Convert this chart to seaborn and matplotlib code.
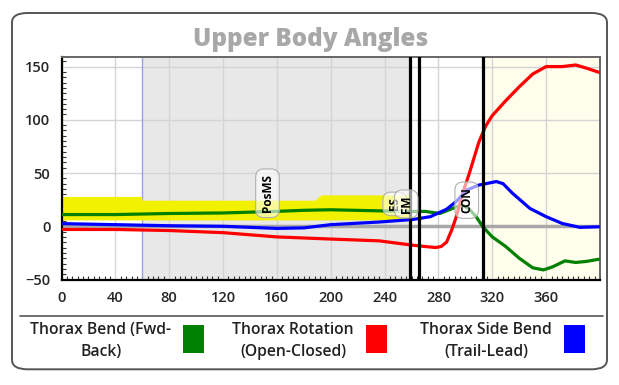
import numpy as np
import pandas as pd
import matplotlib.pyplot as plt
import seaborn as sns
from matplotlib.patches import FancyBboxPatch, Rectangle
from matplotlib.lines import Line2D
from matplotlib.ticker import MultipleLocator

# Angle traces (frame, degrees)
bend_frames = [0, 40, 80, 120, 160, 180, 200, 236, 261, 270, 281, 293, 298, 303,
               308, 313, 320, 330, 340, 350, 358, 365, 374, 382, 390, 399]
bend = [11, 11, 12, 12.5, 14, 15, 15.5, 14.5, 13.8, 14, 12, 18, 20, 16,
        9, -0.5, -10, -19, -30, -39, -41, -38, -32.5, -34, -33, -31]

rotation_frames = [0, 40, 80, 120, 160, 200, 236, 261, 270, 278, 282, 286, 290, 293,
                   298, 303, 310, 315, 320, 330, 340, 350, 360, 372, 382, 390, 399]
rotation = [-3, -3, -4, -6, -10, -12, -13.7, -17.8, -19, -20, -19, -15, -3, 8,
            31, 50, 79, 94, 104, 118, 131, 143, 150, 150, 151.5, 148.5, 144.7]

side_frames = [0, 40, 80, 120, 160, 180, 200, 236, 261, 274, 286, 293, 301, 310,
               323, 328, 335, 348, 360, 372, 385, 399]
side_bend = [2.5, 1.5, 0.5, 0, -2, -1.5, 1.5, 4, 6.4, 9, 16, 23, 34, 38.7,
             42, 40, 31, 16.7, 9, 2.6, -1, -0.5]

series_names = ['Thorax Bend (Fwd-\nBack)', 'Thorax Rotation\n(Open-Closed)',
                'Thorax Side Bend\n(Trail-Lead)']
series_colors = ['#008000', '#ff0000', '#0000ff']

# Yellow normal range band for thorax bend
band_frames = [0, 59.5, 60, 188, 193, 259]
band_low = [6, 6, 6, 6, 6, 6]
band_high = [28, 28, 24.5, 24.5, 29.5, 29.5]

# Swing events
event_labels = ['PosMS', 'ES', 'FM', 'CON']
event_frames = [153, 247.5, 256, 301]
event_heights = [31, 21, 21, 24.5]
event_lines = [258.5, 265.5, 313]

long_df = pd.concat([
    pd.DataFrame({'Frame': bend_frames, 'Angle': bend, 'Series': series_names[0]}),
    pd.DataFrame({'Frame': rotation_frames, 'Angle': rotation, 'Series': series_names[1]}),
    pd.DataFrame({'Frame': side_frames, 'Angle': side_bend, 'Series': series_names[2]}),
], ignore_index=True)

sns.set_style("white")
plt.rcParams['font.family'] = ['Open Sans', 'DejaVu Sans']

W, H = 619, 385
fig = plt.figure(figsize=(W / 100, H / 100), dpi=100)
ax = fig.add_axes([61.5 / W, 1 - 279.5 / H, 538.5 / W, 222.5 / H])
ax.set_zorder(2)


def px(x, y):
    return x / W, 1 - y / H


# rounded outer frame
fig.patches.append(FancyBboxPatch(px(12, 369.3), 595 / W, 356.3 / H,
                                  boxstyle='round,pad=0,rounding_size=0.025',
                                  transform=fig.transFigure, fc='white',
                                  ec='#555555', lw=1.4, zorder=-10))

# background regions
ax.axvspan(60, event_lines[0], color='#e8e8e8', zorder=0, lw=0)
ax.axvspan(event_lines[2], 400, color='#fffdeb', zorder=0, lw=0)
ax.grid(True, color='#d4d4d4', lw=1, zorder=1)
ax.set_axisbelow(True)
ax.axvline(60, color='#9aa0e0', lw=1, zorder=2)
ax.axvline(0.6, color='#f0f000', lw=1.6, zorder=2)
ax.axhline(0, color='#a8a8a8', lw=2.5, zorder=2)

ax.fill_between(band_frames, band_low, band_high, color='#f2f200', lw=0, zorder=2)

sns.lineplot(data=long_df, x='Frame', y='Angle', hue='Series',
             palette=dict(zip(series_names, series_colors)), lw=2.3,
             legend=False, ax=ax, zorder=4)

for xv in event_lines:
    ax.axvline(xv, color='black', lw=2.3, zorder=5)

for i, (lab, xv, yv) in enumerate(zip(event_labels, event_frames, event_heights)):
    ax.text(xv, yv, lab, rotation=90, ha='center', va='center', fontsize=8.5,
            fontweight='bold', color='black', zorder=6 + i,
            bbox=dict(boxstyle='round,pad=0.45,rounding_size=0.7',
                      fc=(1, 1, 1, 0.6), ec='#b0b0b0', lw=0.8))

ax.set_xlim(0, 400)
ax.set_ylim(-50, 159)
ax.xaxis.set_major_locator(MultipleLocator(40))
ax.xaxis.set_minor_locator(MultipleLocator(4))
ax.yaxis.set_major_locator(MultipleLocator(50))
ax.yaxis.set_minor_locator(MultipleLocator(5))
ax.tick_params(which='major', direction='out', length=6, width=1.2,
               labelsize=10.5, color='#222222', pad=2)
ax.tick_params(which='minor', direction='in', length=3, width=0.8,
               color='#333333', bottom=True, left=True)
ax.set_xticks(range(0, 400, 40))
for lab in ax.get_xticklabels() + ax.get_yticklabels():
    lab.set_fontweight('semibold')
ax.set_xlabel('')
ax.set_ylabel('')
for side in ['left', 'bottom']:
    ax.spines[side].set_color('black')
    ax.spines[side].set_linewidth(1.6)
for side in ['top', 'right']:
    ax.spines[side].set_color('#666666')
    ax.spines[side].set_linewidth(1.4)

fig.text(*px(310.5, 40), 'Upper Body Angles', ha='center', va='center',
         fontsize=17.5, fontweight='heavy', color='#a8a8a8')

# legend
fig.add_artist(Line2D([20 / W, 603 / W], [1 - 316 / H, 1 - 316 / H],
                      transform=fig.transFigure, color='#555555', lw=1.2))
text_centers = [101, 293, 486]
patch_left = [183, 366, 563.5]
for name, color, tx, pl in zip(series_names, series_colors, text_centers, patch_left):
    fig.text(*px(tx, 341), name, ha='center', va='center', fontsize=11.3,
             fontweight='semibold', color='#222222', linespacing=1.42,
             multialignment='center')
    fig.add_artist(Rectangle(px(pl, 353), 21 / W, 28 / H,
                             transform=fig.transFigure, fc=color, ec='none'))

fig.savefig('out.png', dpi=100)
